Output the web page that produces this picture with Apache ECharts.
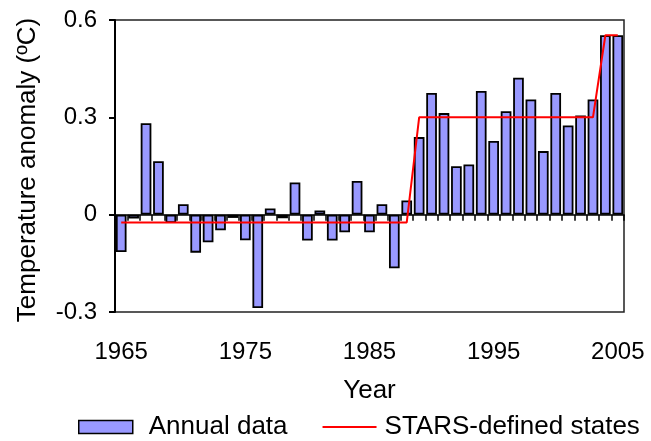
<!DOCTYPE html>
<html>
<head>
<meta charset="utf-8">
<script src="https://cdn.jsdelivr.net/npm/echarts@6/dist/echarts.min.js"></script>
<style>
html,body{margin:0;padding:0;background:#fff;}
#chart{width:651px;height:441px;}
</style>
</head>
<body>
<div id="chart"></div>
<script>
var years = [];
for (var y = 1965; y <= 2005; y++) years.push(String(y));

var annualData = [
  -0.115, -0.012, 0.282, 0.165, -0.026, 0.032, -0.117, -0.085, -0.048, -0.010,
  -0.079, -0.288, 0.019, -0.011, 0.099, -0.080, 0.013, -0.080, -0.054, 0.104,
  -0.054, 0.032, -0.165, 0.044, 0.239, 0.375, 0.313, 0.149, 0.155, 0.381,
  0.227, 0.319, 0.422, 0.355, 0.196, 0.375, 0.275, 0.306, 0.355, 0.553,
  0.553
];

var starsStates = [
  -0.024, -0.024, -0.024, -0.024, -0.024, -0.024, -0.024, -0.024, -0.024, -0.024,
  -0.024, -0.024, -0.024, -0.024, -0.024, -0.024, -0.024, -0.024, -0.024, -0.024,
  -0.024, -0.024, -0.024, -0.024, 0.300, 0.300, 0.300, 0.300, 0.300, 0.300,
  0.300, 0.300, 0.300, 0.300, 0.300, 0.300, 0.300, 0.300, 0.300, 0.553,
  0.553
];

var yTicks = [-0.3, 0, 0.3, 0.6];
var seriesNames = ['Annual data', 'STARS-defined states'];
var axisTitles = { x: 'Year', y: 'Temperature anomaly (\u00BAC)' };

var FONT = '"Liberation Sans", Arial, sans-serif';
var chart = echarts.init(document.getElementById('chart'), null, {renderer: 'canvas'});

chart.setOption({
  animation: false,
  backgroundColor: '#ffffff',
  textStyle: { fontFamily: FONT },
  grid: {
    left: 115, right: 27, top: 20, bottom: 129,
    show: true, borderColor: '#222222', borderWidth: 1.5, backgroundColor: 'transparent'
  },
  legend: {
    top: 414,
    left: 78,
    width: 573,
    padding: 0,
    itemWidth: 54,
    itemHeight: 13,
    itemGap: 34,
    textStyle: { fontFamily: FONT, fontSize: 26, color: '#000' },
    data: [
      { name: seriesNames[0], icon: 'rect',
        itemStyle: { color: '#9999FF', borderColor: '#000', borderWidth: 1.5 },
        textStyle: { padding: [0, 0, 5, 11] } },
      { name: seriesNames[1], itemStyle: { opacity: 0 }, lineStyle: { color: '#FF0000', width: 2 },
        textStyle: { padding: [0, 0, 5, 3] } }
    ]
  },
  xAxis: [
    {
      type: 'category',
      data: years,
      position: 'bottom',
      axisLine: { show: true, onZero: true, lineStyle: { color: '#000', width: 1.5 } },
      axisTick: { show: true, interval: 0, length: 6, lineStyle: { color: '#000', width: 1.5 } },
      axisLabel: { show: false },
      splitLine: { show: false },
      z: 5
    },
    {
      type: 'category',
      data: years,
      position: 'bottom',
      axisLine: { show: false, onZero: false },
      axisTick: { show: false },
      axisLabel: { show: true, interval: 9, fontSize: 24, color: '#000', margin: 28, fontFamily: FONT },
      name: axisTitles.x,
      nameLocation: 'middle',
      nameGap: 66,
      nameTextStyle: { fontSize: 26, color: '#000', fontFamily: FONT },
      splitLine: { show: false }
    }
  ],
  yAxis: {
    type: 'value',
    min: -0.3, max: 0.6, interval: 0.3,
    axisLine: { show: true, lineStyle: { color: '#000', width: 2 } },
    axisTick: { show: true, length: 6, lineStyle: { color: '#000', width: 2 } },
    axisLabel: {
      fontSize: 24, color: '#000', margin: 18, fontFamily: FONT,
      formatter: function (v) { return String(Math.round(v * 10) / 10); }
    },
    splitLine: { show: false },
    name: axisTitles.y,
    nameLocation: 'middle',
    nameGap: 74,
    nameTextStyle: { fontSize: 26, color: '#000', fontFamily: FONT, padding: [0, 8, 0, 0] }
  },
  series: [
    {
      name: seriesNames[0],
      type: 'bar',
      xAxisIndex: 0,
      data: annualData,
      barCategoryGap: '14%',
      itemStyle: { color: '#9999FF', borderColor: '#000', borderWidth: 1.8 },
      z: 2
    },
    {
      name: seriesNames[1],
      type: 'line',
      xAxisIndex: 0,
      data: starsStates,
      symbol: 'none',
      lineStyle: { color: '#FF0000', width: 2 },
      itemStyle: { color: '#FF0000' },
      z: 6
    }
  ]
});
</script>
</body>
</html>
